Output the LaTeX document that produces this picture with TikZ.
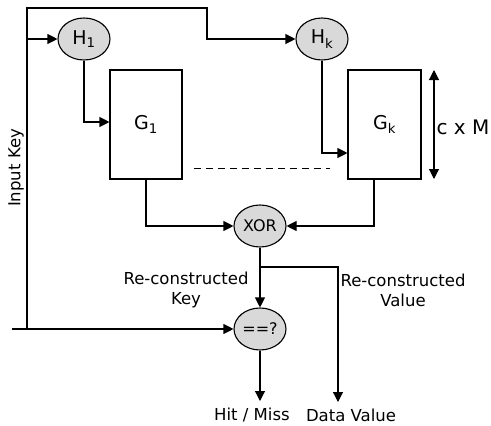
\documentclass[tikz,border=0pt]{standalone}
\usepackage{fontspec}
\setmainfont{DejaVu Sans}
\usetikzlibrary{arrows.meta,shapes.geometric}
\begin{document}
\begin{tikzpicture}[x=1pt,y=-1pt,
  line width=1.1pt,
  arr/.style={-{Triangle[length=10pt,width=10pt]}},
  hashnode/.style={ellipse,draw,fill=black!15,minimum width=52pt,minimum height=42pt,inner sep=0pt,font=\fontsize{16}{18}\selectfont},
  tblnode/.style={rectangle,draw,minimum height=109pt,inner sep=0pt,font=\fontsize{19}{20}\selectfont},
  lbl/.style={font=\fontsize{16.5}{20}\selectfont,align=center,inner sep=0pt}]
\useasboundingbox (0,0) rectangle (491,426);
\node[hashnode,font=\fontsize{19}{20}\selectfont] (h1) at (84,39) {H\textsubscript{1}};
\node[hashnode,font=\fontsize{19}{20}\selectfont] (hk) at (322,39) {H\textsubscript{k}};
\node[tblnode,minimum width=72pt] (g1) at (146,124.5) {G\textsubscript{1}};
\node[tblnode,minimum width=73pt] (gk) at (384.5,124.5) {G\textsubscript{k}};
\node[hashnode] (xor) at (260,226) {XOR};
\node[hashnode] (cmp) at (260,329) {==?};
\node[lbl] (rk) at (186,290) {Re-constructed\\Key};
\node[lbl] (rv) at (403,290) {Re-constructed\\Value};
\node[lbl] (hit) at (252,415) {Hit / Miss};
\node[lbl] (dv) at (351,415) {Data Value};
\node[lbl,rotate=90] (ik) at (16,168) {Input Key};
\node[lbl,anchor=west,font=\fontsize{20}{22}\selectfont] (cm) at (436,127) {c x M};
\coordinate (in) at (12,329);
\coordinate (j) at (27,329);
\coordinate (tl) at (27,8);
\coordinate (tm) at (207,8);
\coordinate (br) at (260,267);
\coordinate (hitend) at (260,401);
\coordinate (dvend) at (338,402);
\coordinate (dimtop) at (434,70);
\coordinate (dimbot) at (434,179);
\coordinate (dsa) at (194,168);
\coordinate (dsb) at (330,168);
% connectors
\draw[arr] (in) -- (cmp.west);
\draw[arr] (j) |- (h1.west);
\draw[arr] (j) -- (tl) -- (tm) |- (hk.west);
\draw[arr] (h1.south) |- ([yshift=2.5pt]g1.west);
\draw[arr] (hk.south) |- ([yshift=-28.5pt]gk.west);
\draw[arr] (g1.south) |- (xor.west);
\draw[arr] ([xshift=-10.5pt]gk.south) |- (xor.east);
\draw[arr] (xor.south) -- (cmp.north);
\draw[arr] (br) -| (dvend);
\draw[arr] (cmp.south) -- (hitend);
\draw[{Triangle[length=10pt,width=10pt]}-{Triangle[length=10pt,width=10pt]}] (dimtop) -- (dimbot);
\draw[line width=0.9pt,dash pattern=on 7pt off 5pt] (dsa) -- (dsb);
\end{tikzpicture}
\end{document}
